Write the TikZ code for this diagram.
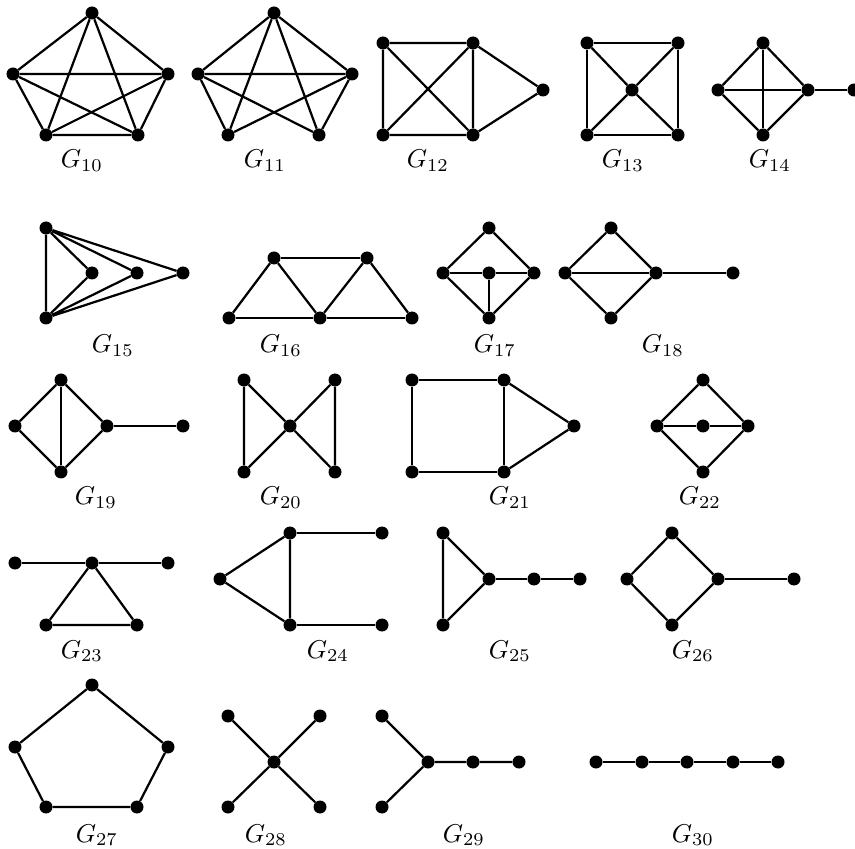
\documentclass[tikz,border=0pt]{standalone}
\usepackage{tikz}

\begin{document}
\begin{tikzpicture}[
  x=0.03cm, y=-0.03cm,
  vtx/.style={circle, fill=black, inner sep=0pt, minimum size=0.39cm},
  link/.style={line width=1.9pt},
  glabel/.style={anchor=base, inner sep=0pt, font=\fontsize{10}{12}\selectfont, scale=2.2, transform shape}
]
\useasboundingbox (0,0) rectangle (855,849);

% G10 (K5)
\node[vtx] (a10) at (92,13) {};
\node[vtx] (b10) at (13,74) {};
\node[vtx] (c10) at (168,74) {};
\node[vtx] (d10) at (46,135) {};
\node[vtx] (e10) at (138,135) {};
\draw[link] (a10) -- (b10) (a10) -- (c10) (a10) -- (d10) (a10) -- (e10);
\draw[link] (b10) -- (c10) (b10) -- (d10) (b10) -- (e10);
\draw[link] (c10) -- (d10) (c10) -- (e10) (d10) -- (e10);
\node[glabel] (g10) at (82,168) {$G_{10}$};

% G11
\node[vtx] (a11) at (274,13) {};
\node[vtx] (b11) at (198,74) {};
\node[vtx] (c11) at (352,74) {};
\node[vtx] (d11) at (228,135) {};
\node[vtx] (e11) at (319,135) {};
\draw[link] (a11) -- (b11) (a11) -- (c11) (a11) -- (d11) (a11) -- (e11);
\draw[link] (b11) -- (c11) (b11) -- (d11) (b11) -- (e11);
\draw[link] (c11) -- (d11) (c11) -- (e11);
\node[glabel] (g11) at (265,168) {$G_{11}$};

% G12
\node[vtx] (a12) at (383,43) {};
\node[vtx] (b12) at (383,135) {};
\node[vtx] (c12) at (473,43) {};
\node[vtx] (d12) at (473,135) {};
\node[vtx] (e12) at (543,90) {};
\draw[link] (a12) -- (c12) (b12) -- (d12) (a12) -- (b12) (a12) -- (d12) (b12) -- (c12);
\draw[link] (c12) -- (d12) (c12) -- (e12) (d12) -- (e12);
\node[glabel] (g12) at (428,168) {$G_{12}$};

% G13
\node[vtx] (a13) at (587,43) {};
\node[vtx] (b13) at (678,43) {};
\node[vtx] (c13) at (587,135) {};
\node[vtx] (d13) at (678,135) {};
\node[vtx] (e13) at (632,90) {};
\draw[link] (a13) -- (b13) (b13) -- (d13) (d13) -- (c13) (c13) -- (a13);
\draw[link] (a13) -- (e13) (b13) -- (e13) (c13) -- (e13) (d13) -- (e13);
\node[glabel] (g13) at (623,168) {$G_{13}$};

% G14
\node[vtx] (a14) at (763,43) {};
\node[vtx] (b14) at (718,90) {};
\node[vtx] (c14) at (808,90) {};
\node[vtx] (d14) at (763,135) {};
\node[vtx] (e14) at (854,90) {};
\draw[link] (a14) -- (b14) (a14) -- (c14) (d14) -- (b14) (d14) -- (c14);
\draw[link] (a14) -- (d14) (b14) -- (c14) (c14) -- (e14);
\node[glabel] (g14) at (770,168) {$G_{14}$};

% G15
\node[vtx] (a15) at (46,228) {};
\node[vtx] (b15) at (46,318) {};
\node[vtx] (c15) at (92,273) {};
\node[vtx] (d15) at (137,273) {};
\node[vtx] (e15) at (183,273) {};
\draw[link] (a15) -- (b15) (a15) -- (c15) (a15) -- (d15) (a15) -- (e15);
\draw[link] (b15) -- (c15) (b15) -- (d15) (b15) -- (e15);
\node[glabel] (g15) at (113,353) {$G_{15}$};

% G16
\node[vtx] (a16) at (274,258) {};
\node[vtx] (b16) at (367,258) {};
\node[vtx] (c16) at (229,318) {};
\node[vtx] (d16) at (320,318) {};
\node[vtx] (e16) at (412,318) {};
\draw[link] (a16) -- (b16) (c16) -- (d16) (d16) -- (e16);
\draw[link] (c16) -- (a16) (a16) -- (d16) (d16) -- (b16) (b16) -- (e16);
\node[glabel] (g16) at (281,353) {$G_{16}$};

% G17
\node[vtx] (a17) at (489,228) {};
\node[vtx] (b17) at (443,273) {};
\node[vtx] (c17) at (489,273) {};
\node[vtx] (d17) at (534,273) {};
\node[vtx] (e17) at (489,318) {};
\draw[link] (a17) -- (b17) (a17) -- (d17) (e17) -- (b17) (e17) -- (d17);
\draw[link] (b17) -- (c17) (c17) -- (d17) (c17) -- (e17);
\node[glabel] (g17) at (495,353) {$G_{17}$};

% G18
\node[vtx] (a18) at (611,228) {};
\node[vtx] (b18) at (565,273) {};
\node[vtx] (c18) at (656,273) {};
\node[vtx] (d18) at (611,318) {};
\node[vtx] (e18) at (733,273) {};
\draw[link] (a18) -- (b18) (a18) -- (c18) (d18) -- (b18) (d18) -- (c18);
\draw[link] (b18) -- (c18) (c18) -- (e18);
\node[glabel] (g18) at (663,353) {$G_{18}$};

% G19
\node[vtx] (a19) at (61,380) {};
\node[vtx] (b19) at (15,426) {};
\node[vtx] (c19) at (107,426) {};
\node[vtx] (d19) at (61,472) {};
\node[vtx] (e19) at (183,426) {};
\draw[link] (a19) -- (b19) (a19) -- (c19) (d19) -- (b19) (d19) -- (c19);
\draw[link] (a19) -- (d19) (c19) -- (e19);
\node[glabel] (g19) at (96,505) {$G_{19}$};

% G20
\node[vtx] (a20) at (244,380) {};
\node[vtx] (b20) at (244,472) {};
\node[vtx] (c20) at (290,426) {};
\node[vtx] (d20) at (335,380) {};
\node[vtx] (e20) at (335,472) {};
\draw[link] (a20) -- (b20) (a20) -- (c20) (b20) -- (c20);
\draw[link] (c20) -- (d20) (c20) -- (e20) (d20) -- (e20);
\node[glabel] (g20) at (281,505) {$G_{20}$};

% G21
\node[vtx] (a21) at (412,380) {};
\node[vtx] (b21) at (412,472) {};
\node[vtx] (c21) at (504,380) {};
\node[vtx] (d21) at (504,472) {};
\node[vtx] (e21) at (574,426) {};
\draw[link] (a21) -- (c21) (c21) -- (d21) (d21) -- (b21) (b21) -- (a21);
\draw[link] (c21) -- (e21) (d21) -- (e21);
\node[glabel] (g21) at (510,505) {$G_{21}$};

% G22
\node[vtx] (a22) at (703,380) {};
\node[vtx] (b22) at (657,426) {};
\node[vtx] (c22) at (703,426) {};
\node[vtx] (d22) at (748,426) {};
\node[vtx] (e22) at (703,472) {};
\draw[link] (a22) -- (b22) (a22) -- (d22) (e22) -- (b22) (e22) -- (d22);
\draw[link] (b22) -- (c22) (c22) -- (d22);
\node[glabel] (g22) at (700,505) {$G_{22}$};

% G23
\node[vtx] (a23) at (15,563) {};
\node[vtx] (b23) at (92,563) {};
\node[vtx] (c23) at (168,563) {};
\node[vtx] (d23) at (46,625) {};
\node[vtx] (e23) at (137,625) {};
\draw[link] (a23) -- (b23) (b23) -- (c23);
\draw[link] (b23) -- (d23) (b23) -- (e23) (d23) -- (e23);
\node[glabel] (g23) at (82,658) {$G_{23}$};

% G24
\node[vtx] (a24) at (290,533) {};
\node[vtx] (b24) at (290,625) {};
\node[vtx] (c24) at (220,579) {};
\node[vtx] (d24) at (382,533) {};
\node[vtx] (e24) at (382,625) {};
\draw[link] (c24) -- (a24) (c24) -- (b24) (a24) -- (b24);
\draw[link] (a24) -- (d24) (b24) -- (e24);
\node[glabel] (g24) at (328,658) {$G_{24}$};

% G25
\node[vtx] (a25) at (443,533) {};
\node[vtx] (b25) at (443,625) {};
\node[vtx] (c25) at (489,579) {};
\node[vtx] (d25) at (534,579) {};
\node[vtx] (e25) at (580,579) {};
\draw[link] (a25) -- (b25) (a25) -- (c25) (b25) -- (c25);
\draw[link] (c25) -- (d25) (d25) -- (e25);
\node[glabel] (g25) at (510,658) {$G_{25}$};

% G26
\node[vtx] (a26) at (672,533) {};
\node[vtx] (b26) at (627,579) {};
\node[vtx] (c26) at (718,579) {};
\node[vtx] (d26) at (672,625) {};
\node[vtx] (e26) at (794,579) {};
\draw[link] (a26) -- (b26) (a26) -- (c26) (d26) -- (b26) (d26) -- (c26);
\draw[link] (c26) -- (e26);
\node[glabel] (g26) at (693,658) {$G_{26}$};

% G27
\node[vtx] (a27) at (92,685) {};
\node[vtx] (b27) at (15,747) {};
\node[vtx] (c27) at (168,747) {};
\node[vtx] (d27) at (46,807) {};
\node[vtx] (e27) at (137,807) {};
\draw[link] (a27) -- (b27) (b27) -- (d27) (d27) -- (e27) (e27) -- (c27) (c27) -- (a27);
\node[glabel] (g27) at (97,842) {$G_{27}$};

% G28
\node[vtx] (a28) at (228,716) {};
\node[vtx] (b28) at (320,716) {};
\node[vtx] (c28) at (274,762) {};
\node[vtx] (d28) at (228,807) {};
\node[vtx] (e28) at (320,807) {};
\draw[link] (c28) -- (a28) (c28) -- (b28) (c28) -- (d28) (c28) -- (e28);
\node[glabel] (g28) at (266,842) {$G_{28}$};

% G29
\node[vtx] (a29) at (382,716) {};
\node[vtx] (b29) at (382,807) {};
\node[vtx] (c29) at (428,762) {};
\node[vtx] (d29) at (473,762) {};
\node[vtx] (e29) at (519,762) {};
\draw[link] (c29) -- (a29) (c29) -- (b29) (c29) -- (d29) (d29) -- (e29);
\node[glabel] (g29) at (464,842) {$G_{29}$};

% G30
\node[vtx] (a30) at (596,762) {};
\node[vtx] (b30) at (642,762) {};
\node[vtx] (c30) at (687,762) {};
\node[vtx] (d30) at (733,762) {};
\node[vtx] (e30) at (778,762) {};
\draw[link] (a30) -- (b30) (b30) -- (c30) (c30) -- (d30) (d30) -- (e30);
\node[glabel] (g30) at (693,842) {$G_{30}$};

\end{tikzpicture}
\end{document}
